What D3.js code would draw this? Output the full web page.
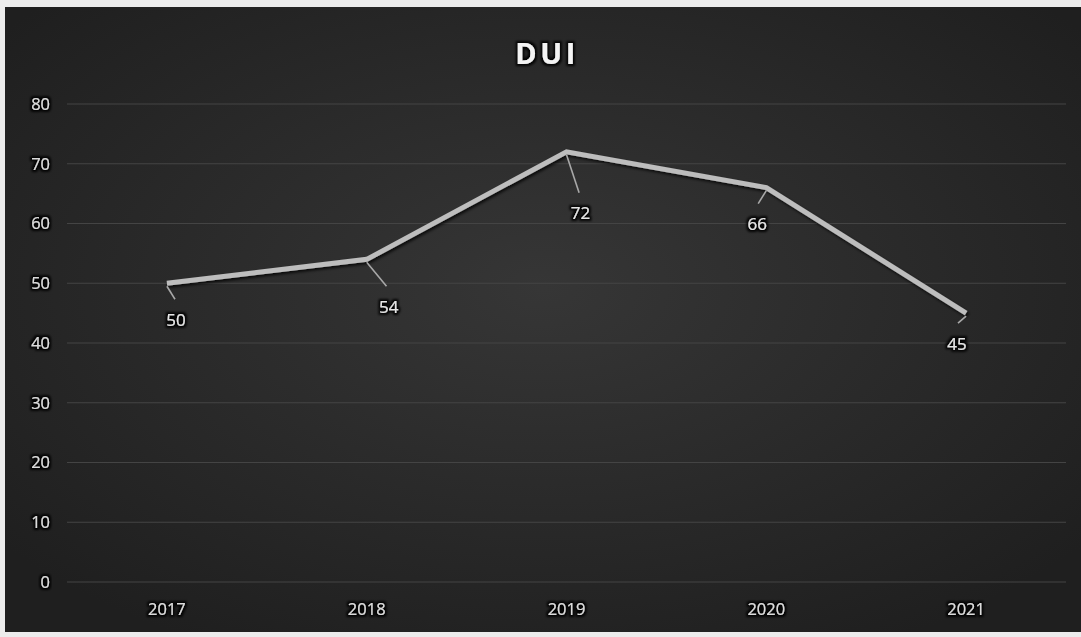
<!DOCTYPE html>
<html>
<head>
<meta charset="utf-8">
<script src="https://cdn.jsdelivr.net/npm/d3@7"></script>
<style>
  html, body { margin: 0; padding: 0; background: #ececec; }
  svg { display: block; }
</style>
</head>
<body>
<svg id="chart" width="1081" height="637"></svg>
<script>
// DUI counts per year
const years = ["2017", "2018", "2019", "2020", "2021"];
const duiCounts = [50, 54, 72, 66, 45];
const yTicks = [0, 10, 20, 30, 40, 50, 60, 70, 80];
// label offsets (dx, dy) from each point, Excel-style leader lines
const labelDx = [9, 22, 14, -9, -9];
const labelDy = [36, 47, 61, 36, 30];

const W = 1081, H = 637;
const svg = d3.select("#chart");
const defs = svg.append("defs");

const bg = defs.append("radialGradient").attr("id", "bgGrad")
  .attr("cx", "50%").attr("cy", "45%").attr("r", "65%");
bg.append("stop").attr("offset", "0%").attr("stop-color", "#363636");
bg.append("stop").attr("offset", "100%").attr("stop-color", "#1f1f1f");

const glow = defs.append("filter").attr("id", "txtGlow")
  .attr("x", "-20%").attr("y", "-20%").attr("width", "140%").attr("height", "140%");
glow.append("feMorphology").attr("in", "SourceAlpha").attr("operator", "dilate").attr("radius", 1.5).attr("result", "d");
glow.append("feGaussianBlur").attr("in", "d").attr("stdDeviation", 1).attr("result", "b");
glow.append("feFlood").attr("flood-color", "#000").attr("flood-opacity", 0.9);
glow.append("feComposite").attr("in2", "b").attr("operator", "in").attr("result", "s");
const gm = glow.append("feMerge");
gm.append("feMergeNode").attr("in", "s");
gm.append("feMergeNode").attr("in", "SourceGraphic");

const shadow = defs.append("filter").attr("id", "lineShadow")
  .attr("x", "-10%").attr("y", "-20%").attr("width", "120%").attr("height", "140%");
shadow.append("feDropShadow").attr("dx", 1.5).attr("dy", 2).attr("stdDeviation", 1.5)
  .attr("flood-color", "#000").attr("flood-opacity", 0.8);

// chart panel
svg.append("rect").attr("x", 5).attr("y", 7).attr("width", W - 5).attr("height", 625)
  .attr("fill", "url(#bgGrad)");

const plot = { left: 67, right: 1066, top: 104, bottom: 582 };

const x = d3.scaleBand().domain(years).range([plot.left, plot.right]);
const y = d3.scaleLinear().domain([0, 80]).range([plot.bottom, plot.top]);

// gridlines
svg.append("g").selectAll("line").data(yTicks).join("line")
  .attr("x1", plot.left).attr("x2", plot.right)
  .attr("y1", d => y(d)).attr("y2", d => y(d))
  .attr("stroke", "#444444").attr("stroke-width", 1.2);

const fontFamily = "'Open Sans', 'Liberation Sans', sans-serif";

// y axis labels
const yAxis = svg.append("g").attr("transform", `translate(${plot.left - 17},0)`)
  .call(d3.axisLeft(y).tickValues(yTicks).tickSize(0).tickPadding(0));
yAxis.select(".domain").remove();
yAxis.selectAll("text").attr("fill", "#dcdcdc").attr("font-size", 16.5)
  .attr("font-family", fontFamily).attr("filter", "url(#txtGlow)");

// x axis labels
const xAxis = svg.append("g").attr("transform", `translate(0,${plot.bottom + 21})`)
  .call(d3.axisBottom(x).tickSize(0).tickPadding(0));
xAxis.select(".domain").remove();
xAxis.selectAll("text").attr("fill", "#dcdcdc").attr("font-size", 16.5)
  .attr("font-family", fontFamily).attr("filter", "url(#txtGlow)");

const cx = d => x(d) + x.bandwidth() / 2;
const pts = years.map((yr, i) => ({ yr, v: duiCounts[i], px: cx(yr), py: y(duiCounts[i]), i }));

// line
svg.append("path").datum(pts)
  .attr("d", d3.line().x(d => d.px).y(d => d.py))
  .attr("fill", "none").attr("stroke", "#bdbdbd").attr("stroke-width", 5)
  .attr("stroke-linejoin", "miter").attr("filter", "url(#lineShadow)");

// leader lines
svg.append("g").selectAll("line").data(pts).join("line")
  .attr("x1", d => d.px).attr("y1", d => d.py + 3)
  .attr("x2", d => d.px + labelDx[d.i] * 0.9).attr("y2", d => d.py + labelDy[d.i] - 20)
  .attr("stroke", "#a8a8a8").attr("stroke-width", 1.6);

// data labels
svg.append("g").selectAll("text").data(pts).join("text")
  .attr("x", d => d.px + labelDx[d.i]).attr("y", d => d.py + labelDy[d.i])
  .attr("text-anchor", "middle").attr("dominant-baseline", "central")
  .attr("fill", "#e6e6e6").attr("font-size", 17).attr("font-family", fontFamily)
  .attr("filter", "url(#txtGlow)")
  .text(d => d.v);

// title
svg.append("text").attr("x", 547).attr("y", 52)
  .attr("text-anchor", "middle").attr("dominant-baseline", "central")
  .attr("fill", "#f4f4f4").attr("font-size", 29).attr("font-weight", "bold")
  .attr("letter-spacing", 3.5).attr("font-family", fontFamily)
  .attr("filter", "url(#txtGlow)")
  .text("DUI");
</script>
</body>
</html>
